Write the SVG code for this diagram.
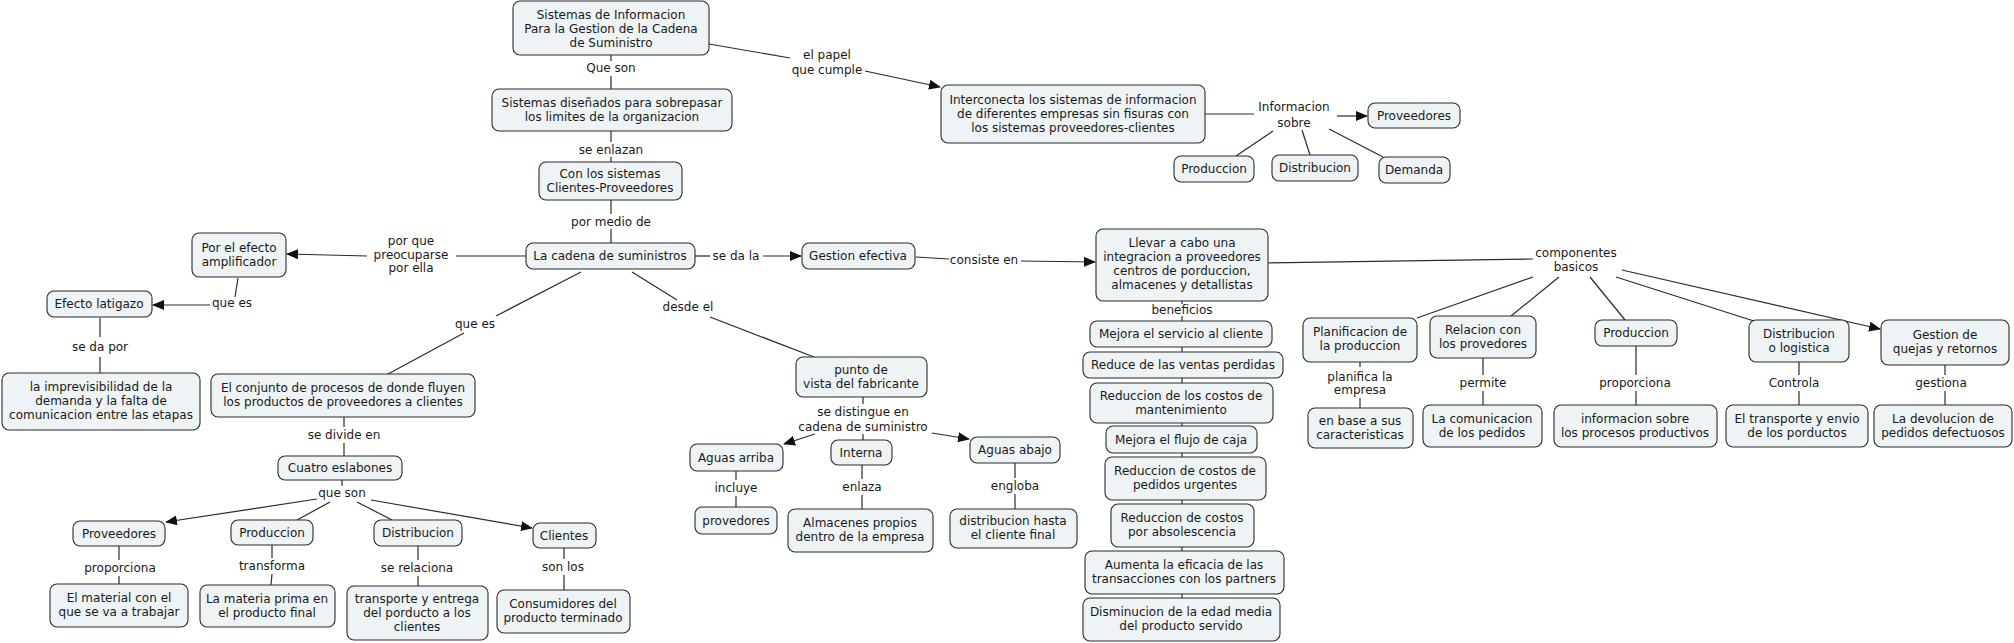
<svg xmlns="http://www.w3.org/2000/svg" width="2014" height="643" viewBox="0 0 2014 643">
<defs>
<style>
.n rect{fill:#eef3f5;stroke:#2b2b2b;stroke-width:1.1}
text{font-family:"DejaVu Sans",Verdana,sans-serif;font-size:12px;fill:#1a1a1a;text-anchor:middle}
#connectors line{stroke:#2b2b2b;stroke-width:1.2}
.a{marker-end:url(#ah)}
</style>
<marker id="ah" markerUnits="userSpaceOnUse" markerWidth="12" markerHeight="10" refX="11" refY="5" orient="auto">
<path d="M0,0 L12,5 L0,10 z" fill="#111"/>
</marker>
</defs>
<rect width="2014" height="643" fill="#fff"/>
<g id="connectors">
<line x1="611" y1="55" x2="611" y2="61"/>
<line x1="611" y1="76" x2="611" y2="89"/>
<line x1="611" y1="131" x2="611" y2="142"/>
<line x1="611" y1="157" x2="611" y2="162"/>
<line x1="611" y1="200" x2="611" y2="214"/>
<line x1="611" y1="229" x2="611" y2="243"/>
<line x1="709" y1="44" x2="790" y2="58"/>
<line class="a" x1="865" y1="71" x2="940" y2="87"/>
<line x1="1205" y1="114" x2="1254" y2="114"/>
<line class="a" x1="1337" y1="116" x2="1367" y2="116"/>
<line x1="1273" y1="131" x2="1236" y2="156"/>
<line x1="1302" y1="130" x2="1310" y2="155"/>
<line x1="1329" y1="129" x2="1383" y2="157"/>
<line x1="695" y1="256" x2="710" y2="256"/>
<line class="a" x1="763" y1="256" x2="801" y2="256"/>
<line x1="916" y1="257" x2="949" y2="259"/>
<line class="a" x1="1021" y1="261" x2="1095" y2="262"/>
<line x1="1268" y1="263" x2="1533" y2="259"/>
<line x1="1533" y1="277" x2="1417" y2="318"/>
<line x1="1559" y1="277" x2="1511" y2="316"/>
<line x1="1590" y1="277" x2="1625" y2="320"/>
<line x1="1616" y1="277" x2="1757" y2="322"/>
<line class="a" x1="1622" y1="270" x2="1880" y2="329"/>
<line x1="526" y1="256" x2="456" y2="256"/>
<line class="a" x1="367" y1="256" x2="287" y2="254"/>
<line x1="238" y1="278" x2="235" y2="297"/>
<line class="a" x1="210" y1="305" x2="153" y2="305"/>
<line x1="100" y1="318" x2="100" y2="337"/>
<line x1="100" y1="357" x2="100" y2="373"/>
<line x1="581" y1="272" x2="496" y2="316"/>
<line x1="464" y1="333" x2="388" y2="374"/>
<line x1="632" y1="272" x2="677" y2="300"/>
<line x1="710" y1="317" x2="814" y2="357"/>
<line x1="344" y1="417" x2="344" y2="427"/>
<line x1="344" y1="443" x2="344" y2="456"/>
<line x1="342" y1="480" x2="342" y2="486"/>
<line class="a" x1="317" y1="499" x2="166" y2="522"/>
<line x1="330" y1="502" x2="297" y2="520"/>
<line x1="357" y1="502" x2="392" y2="520"/>
<line class="a" x1="371" y1="500" x2="532" y2="528"/>
<line x1="119" y1="546" x2="119" y2="560"/>
<line x1="119" y1="576" x2="119" y2="584"/>
<line x1="272" y1="545" x2="272" y2="558"/>
<line x1="272" y1="574" x2="271" y2="585"/>
<line x1="418" y1="546" x2="418" y2="560"/>
<line x1="418" y1="576" x2="418" y2="586"/>
<line x1="564" y1="548" x2="564" y2="559"/>
<line x1="564" y1="575" x2="564" y2="590"/>
<line x1="863" y1="397" x2="863" y2="404"/>
<line class="a" x1="815" y1="434" x2="784" y2="444"/>
<line x1="863" y1="434" x2="863" y2="440"/>
<line class="a" x1="932" y1="433" x2="969" y2="439"/>
<line x1="736" y1="471" x2="736" y2="480"/>
<line x1="736" y1="496" x2="736" y2="507"/>
<line x1="862" y1="465" x2="862" y2="479"/>
<line x1="862" y1="495" x2="862" y2="509"/>
<line x1="1015" y1="463" x2="1015" y2="478"/>
<line x1="1015" y1="494" x2="1015" y2="509"/>
<line x1="1182" y1="301" x2="1182" y2="304"/>
<line x1="1182" y1="316" x2="1182" y2="598"/>
<line x1="1360" y1="362" x2="1360" y2="367"/>
<line x1="1360" y1="398" x2="1360" y2="408"/>
<line x1="1483" y1="358" x2="1483" y2="375"/>
<line x1="1483" y1="391" x2="1483" y2="405"/>
<line x1="1636" y1="346" x2="1636" y2="375"/>
<line x1="1636" y1="391" x2="1636" y2="405"/>
<line x1="1799" y1="362" x2="1799" y2="375"/>
<line x1="1799" y1="391" x2="1799" y2="405"/>
<line x1="1945" y1="365" x2="1945" y2="375"/>
<line x1="1945" y1="391" x2="1945" y2="405"/>
</g>
<g id="labels">
<text x="611" y="72">Que son</text>
<text x="611" y="154">se enlazan</text>
<text x="611" y="226">por medio de</text>
<text x="827" y="59">el papel</text>
<text x="827" y="74">que cumple</text>
<text x="1294" y="111">Informacion</text>
<text x="1294" y="127">sobre</text>
<text x="736" y="260">se da la</text>
<text x="984" y="264">consiste en</text>
<text x="411" y="245">por que</text>
<text x="411" y="259">preocuparse</text>
<text x="411" y="272">por ella</text>
<text x="232" y="307">que es</text>
<text x="100" y="351">se da por</text>
<text x="475" y="328">que es</text>
<text x="688" y="311">desde el</text>
<text x="344" y="439">se divide en</text>
<text x="342" y="497">que son</text>
<text x="120" y="572">proporciona</text>
<text x="272" y="570">transforma</text>
<text x="417" y="572">se relaciona</text>
<text x="563" y="571">son los</text>
<text x="863" y="416">se distingue en</text>
<text x="863" y="431">cadena de suministro</text>
<text x="736" y="492">incluye</text>
<text x="862" y="491">enlaza</text>
<text x="1015" y="490">engloba</text>
<text x="1182" y="314">beneficios</text>
<text x="1576" y="257">componentes</text>
<text x="1576" y="271">basicos</text>
<text x="1360" y="381">planifica la</text>
<text x="1360" y="394">empresa</text>
<text x="1483" y="387">permite</text>
<text x="1635" y="387">proporciona</text>
<text x="1794" y="387">Controla</text>
<text x="1941" y="387">gestiona</text>
</g>
<g id="n1" class="n"><rect x="513" y="1" width="196" height="54" rx="7"/><text x="611" y="19">Sistemas de Informacion</text><text x="611" y="33">Para la Gestion de la Cadena</text><text x="611" y="47">de Suministro</text></g>
<g id="n2" class="n"><rect x="492" y="89" width="240" height="42" rx="7"/><text x="612" y="107">Sistemas diseñados para sobrepasar</text><text x="612" y="121">los limites de la organizacion</text></g>
<g id="n3" class="n"><rect x="539" y="162" width="143" height="38" rx="7"/><text x="610" y="178">Con los sistemas</text><text x="610" y="192">Clientes-Proveedores</text></g>
<g id="n4" class="n"><rect x="526" y="243" width="169" height="26" rx="7"/><text x="610" y="260">La cadena de suministros</text></g>
<g id="n5" class="n"><rect x="802" y="243" width="113" height="26" rx="7"/><text x="858" y="260">Gestion efectiva</text></g>
<g id="n6" class="n"><rect x="1096" y="229" width="172" height="72" rx="7"/><text x="1182" y="247">Llevar a cabo una</text><text x="1182" y="261">integracion a proveedores</text><text x="1182" y="275">centros de porduccion,</text><text x="1182" y="289">almacenes y detallistas</text></g>
<g id="n7" class="n"><rect x="941" y="85" width="264" height="58" rx="7"/><text x="1073" y="104">Interconecta los sistemas de informacion</text><text x="1073" y="118">de diferentes empresas sin fisuras con</text><text x="1073" y="132">los sistemas proveedores-clientes</text></g>
<g id="n8" class="n"><rect x="1368" y="103" width="92" height="25" rx="7"/><text x="1414" y="120">Proveedores</text></g>
<g id="n9" class="n"><rect x="1174" y="156" width="80" height="26" rx="7"/><text x="1214" y="173">Produccion</text></g>
<g id="n10" class="n"><rect x="1272" y="155" width="86" height="26" rx="7"/><text x="1315" y="172">Distribucion</text></g>
<g id="n11" class="n"><rect x="1379" y="157" width="71" height="26" rx="7"/><text x="1414" y="174">Demanda</text></g>
<g id="n12" class="n"><rect x="192" y="233" width="94" height="44" rx="7"/><text x="239" y="252">Por el efecto</text><text x="239" y="266">amplificador</text></g>
<g id="n13" class="n"><rect x="47" y="291" width="105" height="26" rx="7"/><text x="99" y="308">Efecto latigazo</text></g>
<g id="n14" class="n"><rect x="2" y="373" width="198" height="57" rx="7"/><text x="101" y="391">la imprevisibilidad de la</text><text x="101" y="405">demanda y la falta de</text><text x="101" y="419">comunicacion entre las etapas</text></g>
<g id="n15" class="n"><rect x="211" y="374" width="264" height="43" rx="7"/><text x="343" y="392">El conjunto de procesos de donde fluyen</text><text x="343" y="406">los productos de proveedores a clientes</text></g>
<g id="n16" class="n"><rect x="278" y="456" width="124" height="24" rx="7"/><text x="340" y="472">Cuatro eslabones</text></g>
<g id="n17" class="n"><rect x="73" y="521" width="92" height="25" rx="7"/><text x="119" y="538">Proveedores</text></g>
<g id="n18" class="n"><rect x="231" y="520" width="82" height="25" rx="7"/><text x="272" y="537">Produccion</text></g>
<g id="n19" class="n"><rect x="374" y="520" width="88" height="26" rx="7"/><text x="418" y="537">Distribucion</text></g>
<g id="n20" class="n"><rect x="533" y="523" width="63" height="25" rx="7"/><text x="564" y="540">Clientes</text></g>
<g id="n21" class="n"><rect x="50" y="584" width="138" height="43" rx="7"/><text x="119" y="602">El material con el</text><text x="119" y="616">que se va a trabajar</text></g>
<g id="n22" class="n"><rect x="200" y="585" width="135" height="42" rx="7"/><text x="267" y="603">La materia prima en</text><text x="267" y="617">el producto final</text></g>
<g id="n23" class="n"><rect x="347" y="586" width="141" height="54" rx="7"/><text x="417" y="603">transporte y entrega</text><text x="417" y="617">del porducto a los</text><text x="417" y="631">clientes</text></g>
<g id="n24" class="n"><rect x="497" y="590" width="133" height="43" rx="7"/><text x="563" y="608">Consumidores del</text><text x="563" y="622">producto terminado</text></g>
<g id="n25" class="n"><rect x="796" y="357" width="131" height="40" rx="7"/><text x="861" y="374">punto de</text><text x="861" y="388">vista del fabricante</text></g>
<g id="n26" class="n"><rect x="690" y="444" width="93" height="27" rx="7"/><text x="736" y="462">Aguas arriba</text></g>
<g id="n27" class="n"><rect x="831" y="440" width="61" height="25" rx="7"/><text x="861" y="457">Interna</text></g>
<g id="n28" class="n"><rect x="970" y="437" width="90" height="26" rx="7"/><text x="1015" y="454">Aguas abajo</text></g>
<g id="n29" class="n"><rect x="695" y="507" width="82" height="27" rx="7"/><text x="736" y="525">provedores</text></g>
<g id="n30" class="n"><rect x="788" y="509" width="145" height="43" rx="7"/><text x="860" y="527">Almacenes propios</text><text x="860" y="541">dentro de la empresa</text></g>
<g id="n31" class="n"><rect x="950" y="509" width="127" height="39" rx="7"/><text x="1013" y="525">distribucion hasta</text><text x="1013" y="539">el cliente final</text></g>
<g id="b1" class="n"><rect x="1090" y="321" width="182" height="26" rx="7"/><text x="1181" y="338">Mejora el servicio al cliente</text></g>
<g id="b2" class="n"><rect x="1083" y="352" width="200" height="26" rx="7"/><text x="1183" y="369">Reduce de las ventas perdidas</text></g>
<g id="b3" class="n"><rect x="1090" y="383" width="183" height="40" rx="7"/><text x="1181" y="400">Reduccion de los costos de</text><text x="1181" y="414">mantenimiento</text></g>
<g id="b4" class="n"><rect x="1106" y="426" width="151" height="27" rx="7"/><text x="1181" y="444">Mejora el flujo de caja</text></g>
<g id="b5" class="n"><rect x="1105" y="457" width="161" height="43" rx="7"/><text x="1185" y="475">Reduccion de costos de</text><text x="1185" y="489">pedidos urgentes</text></g>
<g id="b6" class="n"><rect x="1111" y="504" width="143" height="43" rx="7"/><text x="1182" y="522">Reduccion de costos</text><text x="1182" y="536">por absolescencia</text></g>
<g id="b7" class="n"><rect x="1085" y="551" width="199" height="43" rx="7"/><text x="1184" y="569">Aumenta la eficacia de las</text><text x="1184" y="583">transacciones con los partners</text></g>
<g id="b8" class="n"><rect x="1083" y="598" width="197" height="43" rx="7"/><text x="1181" y="616">Disminucion de la edad media</text><text x="1181" y="630">del producto servido</text></g>
<g id="c1" class="n"><rect x="1303" y="318" width="114" height="44" rx="7"/><text x="1360" y="336">Planificacion de</text><text x="1360" y="350">la produccion</text></g>
<g id="c2" class="n"><rect x="1430" y="316" width="106" height="42" rx="7"/><text x="1483" y="334">Relacion con</text><text x="1483" y="348">los provedores</text></g>
<g id="c3" class="n"><rect x="1595" y="320" width="82" height="26" rx="7"/><text x="1636" y="337">Produccion</text></g>
<g id="c4" class="n"><rect x="1749" y="320" width="100" height="42" rx="7"/><text x="1799" y="338">Distribucion</text><text x="1799" y="352">o logistica</text></g>
<g id="c5" class="n"><rect x="1881" y="320" width="128" height="45" rx="7"/><text x="1945" y="339">Gestion de</text><text x="1945" y="353">quejas y retornos</text></g>
<g id="d1" class="n"><rect x="1308" y="408" width="105" height="40" rx="7"/><text x="1360" y="425">en base a sus</text><text x="1360" y="439">caracteristicas</text></g>
<g id="d2" class="n"><rect x="1423" y="405" width="119" height="42" rx="7"/><text x="1482" y="423">La comunicacion</text><text x="1482" y="437">de los pedidos</text></g>
<g id="d3" class="n"><rect x="1554" y="405" width="163" height="42" rx="7"/><text x="1635" y="423">informacion sobre</text><text x="1635" y="437">los procesos productivos</text></g>
<g id="d4" class="n"><rect x="1726" y="405" width="142" height="42" rx="7"/><text x="1797" y="423">El transporte y envio</text><text x="1797" y="437">de los porductos</text></g>
<g id="d5" class="n"><rect x="1874" y="405" width="138" height="42" rx="7"/><text x="1943" y="423">La devolucion de</text><text x="1943" y="437">pedidos defectuosos</text></g>
</svg>
